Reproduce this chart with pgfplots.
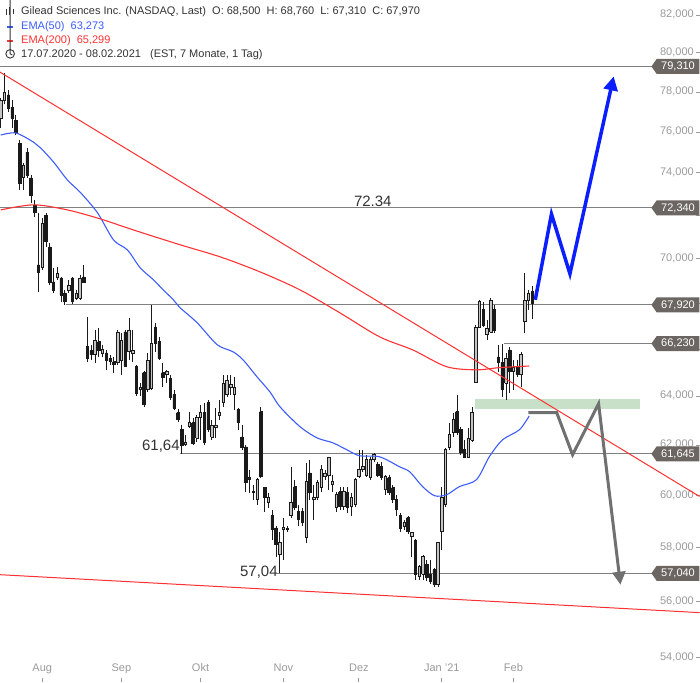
\documentclass[border=0pt]{standalone}
\usepackage{fontspec}
\setmainfont{Liberation Sans}
\usepackage{pgfplots}
\pgfplotsset{compat=1.18}
\usepackage{pgfplotstable}
\usetikzlibrary{arrows.meta,shapes.symbols}

\definecolor{tagc}{HTML}{6B6661}
\definecolor{lvlc}{HTML}{808080}
\definecolor{labc}{HTML}{9A9A9A}
\definecolor{hdrc}{HTML}{333333}
\definecolor{emablue}{HTML}{3D5CFF}
\definecolor{emared}{HTML}{FF3333}
\definecolor{trendc}{HTML}{FF3030}
\definecolor{arrowblue}{HTML}{0A1EFF}
\definecolor{arrowgrey}{HTML}{707070}
\definecolor{boxgreen}{HTML}{C8E0C8}
\definecolor{candlec}{HTML}{1A1A1A}
\definecolor{upfill}{HTML}{C4C4C4}

\pgfplotstableread{
i O H L C
0 76.69 77.69 76.20 77.59
1 77.59 78.97 77.39 78.00
2 77.85 78.10 76.99 77.19
3 77.24 77.59 76.20 76.69
4 76.59 76.84 75.85 76.00
5 75.45 75.60 73.19 73.52
6 73.80 74.48 73.19 74.39
7 75.01 75.21 73.76 73.90
8 73.76 73.90 72.57 72.95
9 72.48 72.71 71.91 72.14
10 69.70 72.10 68.49 69.39
11 69.61 71.86 69.48 71.63
12 72.00 72.10 70.53 70.76
13 70.53 70.71 68.81 68.94
14 68.94 69.57 68.45 68.58
15 69.16 69.61 69.03 69.34
16 69.12 69.16 68.05 68.36
17 68.45 68.58 67.92 68.05
18 68.58 69.03 68.45 68.81
19 69.12 69.16 67.96 68.09
20 68.23 68.58 68.14 68.45
21 68.23 69.25 68.14 69.12
22 69.16 69.70 68.90 68.94
23 66.09 67.39 65.45 65.62
24 65.92 66.18 65.53 65.75
25 65.75 66.82 65.41 66.39
26 66.31 66.91 65.66 65.96
27 65.83 66.18 65.66 66.00
28 65.83 65.96 65.11 65.53
29 65.58 65.75 65.32 65.49
30 65.45 65.66 64.99 65.36
31 65.41 66.82 65.32 66.74
32 65.53 66.69 64.90 66.39
33 66.74 66.82 65.24 65.28
34 65.88 67.35 65.53 66.82
35 65.83 66.82 65.45 65.96
36 65.24 65.32 64.02 64.14
37 64.27 64.56 64.02 64.39
38 64.99 65.07 63.56 63.65
39 64.27 65.83 64.18 65.53
40 64.35 67.92 64.27 66.26
41 66.95 67.13 65.88 66.26
42 66.31 66.52 65.53 65.62
43 64.99 65.41 64.39 64.81
44 64.90 65.11 64.56 65.03
45 64.73 64.90 63.85 63.97
46 64.06 64.27 63.44 63.52
47 63.32 63.48 62.95 63.03
48 62.62 62.82 61.645 62.01
49 62.05 62.42 61.97 62.13
50 62.74 63.36 62.70 62.91
51 62.91 63.11 62.01 62.09
52 62.29 63.23 62.13 63.15
53 63.15 63.65 62.21 63.32
54 63.32 63.73 62.01 62.13
55 63.73 63.85 62.54 62.62
56 62.33 63.03 62.21 62.82
57 62.70 63.52 62.29 62.82
58 63.23 63.85 63.03 63.32
59 63.73 64.90 63.56 64.56
60 64.06 64.90 63.97 64.65
61 64.39 64.90 64.06 64.48
62 64.06 64.81 63.44 64.39
63 63.44 63.52 62.62 62.91
64 62.33 62.82 61.81 61.89
65 61.93 62.01 60.15 60.50
66 60.70 61.01 60.11 60.62
67 60.15 60.42 59.84 60.11
68 59.84 60.70 59.65 60.62
69 63.36 63.56 60.70 60.74
70 60.31 60.35 59.37 59.92
71 59.72 60.11 59.53 59.92
72 59.22 59.45 58.30 58.68
73 58.75 58.83 57.66 58.11
74 57.73 58.60 57.04 58.19
75 58.68 59.14 57.55 58.79
76 58.68 58.83 58.60 58.75
77 59.22 61.13 59.14 59.72
78 60.35 60.62 59.45 59.53
79 59.37 59.65 58.83 59.06
80 59.37 59.53 58.83 58.98
81 58.38 61.29 58.19 60.54
82 60.89 61.41 59.84 60.11
83 59.84 60.42 59.06 59.92
84 59.92 60.62 59.84 60.50
85 60.31 61.21 60.15 61.01
86 60.74 61.01 60.62 60.89
87 60.81 61.53 60.23 61.53
88 60.42 60.81 60.15 60.54
89 59.53 60.15 59.37 60.03
90 60.15 60.35 59.45 59.57
91 59.57 60.35 59.45 60.15
92 60.11 60.35 59.33 59.53
93 59.57 60.11 59.22 59.92
94 59.65 60.70 59.57 60.62
95 60.74 61.81 60.70 61.05
96 61.01 61.81 60.93 61.13
97 60.81 61.61 60.74 61.41
98 60.70 61.53 60.62 61.41
99 61.41 61.70 61.33 61.61
100 61.21 61.33 60.74 60.81
101 61.13 61.33 60.62 60.70
102 60.23 60.81 60.03 60.74
103 60.70 60.81 60.03 60.11
104 60.31 60.42 59.72 59.84
105 59.84 60.03 59.22 59.45
106 59.22 59.33 58.60 58.75
107 58.83 59.06 58.68 58.98
108 59.14 59.22 58.53 58.60
109 58.45 58.60 57.66 58.57
110 58.26 58.34 56.81 57.00
111 56.92 57.36 56.81 57.29
112 57.00 57.73 56.81 57.66
113 57.36 57.55 56.74 56.88
114 57.00 57.55 56.66 56.74
115 57.18 57.25 56.55 56.62
116 56.62 58.22 56.55 58.19
117 58.60 60.35 57.92 59.92
118 59.65 61.89 59.57 61.81
119 61.89 62.91 61.81 62.42
120 62.50 63.32 62.33 63.03
121 63.36 64.06 62.42 62.50
122 62.62 62.74 61.61 61.73
123 61.81 62.21 61.49 61.53
124 61.53 62.70 61.49 62.29
125 62.21 63.56 62.13 63.32
126 64.60 67.04 64.56 66.95
127 66.95 68.14 66.91 68.05
128 67.70 68.05 66.95 67.04
129 66.61 67.26 66.39 66.91
130 66.74 68.23 66.69 68.14
131 67.70 67.92 66.69 66.82
132 65.66 66.18 65.03 65.41
133 65.41 66.23 63.97 64.27
134 64.56 65.83 63.85 65.62
135 65.96 66.09 64.14 65.03
136 65.03 65.53 64.27 65.20
137 65.24 65.53 64.81 64.90
138 64.90 65.88 64.39 65.75
139 67.17 69.34 66.69 68.14
140 68.14 68.58 67.70 68.45
141 68.50 68.76 67.31 67.97
}\candles

\pgfplotstableread{
x v
0 75.85
4.0 75.95
8.7 75.50
10.6 75.21
14.0 74.53
17.7 73.66
21.2 73.05
25.7 72.10
29.9 70.85
33.6 70.39
37.0 69.57
40.5 69.03
43.1 68.58
45.8 68.14
47.6 67.79
52.1 67.13
57.4 66.18
61.6 65.88
64.3 65.53
68.0 64.81
71.4 64.18
74.1 63.56
79.4 62.74
83.9 62.29
88.1 62.09
91.8 61.81
95.2 61.57
100.5 61.53
105.8 61.13
108.5 60.93
111.9 60.35
115.1 59.99
118.3 60.03
121.7 60.35
126.2 60.62
129.6 61.53
133.1 62.21
137.6 62.62
140.2 63.19
}\emafifty

\pgfplotstableread{
x v
0 72.24
8.7 72.48
17.7 72.24
26.5 71.82
35.2 71.31
47.6 70.62
58.2 70.07
68.8 69.39
79.4 68.58
89.9 67.57
100.5 66.52
109.3 65.96
118.3 65.24
126.2 65.11
132.3 65.20
140.2 65.27
}\ematwohundred

\pgfplotstablegetrowsof{\candles}
\pgfmathtruncatemacro{\lastrow}{\pgfplotsretval-1}

\begin{document}
\fontsize{11}{13}\selectfont
\begin{tikzpicture}
\begin{axis}[
  set layers,
  width=700pt, height=682pt, scale only axis,
  xmin=-0.2, xmax=185.4,
  ymode=log, ymin=53.16, ymax=82.80,
  axis line style={draw=none},
  tick align=inside, major tick length=4pt,
  xminorticks=false, yminorticks=false,
  tick style={draw=labc, line width=0.8pt},
  every tick label/.append style={font=\fontsize{11}{13}\selectfont, text=labc},
  xtick={11,32,53,75,95,117,136},
  xticklabels={Aug,Sep,Okt,Nov,Dez,Jan '21,Feb},
  xtick pos=bottom, xticklabel pos=bottom,
  xticklabel style={anchor=south, yshift=2pt},
  typeset ticklabels with strut,
  ytick={54,56,58,60,62,64,66,68,70,72,74,76,78,80,82},
  yticklabels={{54,000},{56,000},{58,000},{60,000},{62,000},{64,000},{},{},{70,000},{},{74,000},{76,000},{78,000},{80,000},{82,000}},
  ytick pos=right, yticklabel pos=right,
  yticklabel style={anchor=east, xshift=-2pt},
  clip=true,
]
% target zone
\addplot[fill=boxgreen, draw=none] coordinates {(125.7,63.48) (169.5,63.48) (169.5,63.89) (125.7,63.89)};
% horizontal levels
\addplot[lvlc, line width=1pt] coordinates {(-0.2,79.31) (172.7,79.31)};
\addplot[lvlc, line width=1pt] coordinates {(-0.2,72.34) (172.7,72.34)};
\addplot[lvlc, line width=1pt] coordinates {(17.2,67.92) (172.7,67.92)};
\addplot[lvlc, line width=1pt] coordinates {(133.6,66.23) (172.7,66.23)};
\addplot[lvlc, line width=1pt] coordinates {(47.5,61.645) (172.7,61.645)};
\addplot[lvlc, line width=1pt] coordinates {(73.3,57.04) (172.7,57.04)};

% candles
\pgfplotsforeachungrouped \rowidx in {0,...,\lastrow}{%
  \pgfplotstablegetelem{\rowidx}{i}\of\candles\let\ci\pgfplotsretval
  \pgfplotstablegetelem{\rowidx}{O}\of\candles\let\co\pgfplotsretval
  \pgfplotstablegetelem{\rowidx}{H}\of\candles\let\ch\pgfplotsretval
  \pgfplotstablegetelem{\rowidx}{L}\of\candles\let\cl\pgfplotsretval
  \pgfplotstablegetelem{\rowidx}{C}\of\candles\let\cc\pgfplotsretval
  \pgfmathsetmacro\xl{\ci-0.33}%
  \pgfmathsetmacro\xr{\ci+0.33}%
  \pgfmathtruncatemacro\up{\cc>\co}%
  \ifnum\up=1 \def\cf{upfill}\else\def\cf{candlec}\fi
  \edef\tmp{%
    \noexpand\addplot[candlec, line width=0.7pt] coordinates {(\ci,\cl) (\ci,\ch)};%
    \noexpand\addplot[draw=candlec, fill=\cf, line width=0.6pt] coordinates {(\xl,\co) (\xr,\co) (\xr,\cc) (\xl,\cc) (\xl,\co)};%
  }\tmp
}

% trend lines
\addplot[trendc, line width=1pt] coordinates {(-0.2,79.02) (185.4,59.96)};
\addplot[trendc, line width=1pt] coordinates {(-0.2,56.99) (185.4,55.60)};
% EMAs
\addplot[emablue, line width=1.1pt, smooth, tension=0.5] table[x=x, y=v] {\emafifty};
\addplot[emared, line width=1.1pt, smooth, tension=0.5] table[x=x, y=v] {\ematwohundred};

% scenario arrows
\addplot[arrowblue, line width=3.5pt, -{Triangle[length=14pt,width=14pt]}] coordinates {(141.8,68.14) (146.1,72.05) (151.0,69.30) (162.6,78.80)};
\addplot[arrowgrey, line width=3pt, -{Triangle[length=13pt,width=13pt]}] coordinates {(140.0,63.32) (147.5,63.32) (151.7,61.61) (158.6,63.69) (164.4,56.62)};

% level annotations
\node[anchor=base, inner sep=0, font=\fontsize{15}{17}\selectfont, text=hdrc, yshift=1pt] at (axis cs:98.7,72.34) {72.34};
\node[anchor=base east, inner sep=0, font=\fontsize{15}{17}\selectfont, text=hdrc, yshift=3pt] at (axis cs:47.5,61.645) {61,64};
\node[anchor=base east, inner sep=0, font=\fontsize{15}{17}\selectfont, text=hdrc, yshift=-3pt] at (axis cs:73.5,57.04) {57,04};

% price tags
\tikzset{tag/.style={signal, signal to=west, signal pointer angle=110, fill=tagc, text=white,
  font=\fontsize{11}{13}\selectfont, inner xsep=3pt, inner ysep=1pt, minimum height=15pt,
  minimum width=48pt, anchor=east}}
\node[tag] at (axis cs:185.4,79.31) {79,310};
\node[tag] at (axis cs:185.4,72.34) {72,340};
\node[tag] at (axis cs:185.4,67.92) {67,920};
\node[tag] at (axis cs:185.4,66.23) {66,230};
\node[tag] at (axis cs:185.4,61.645) {61,645};
\node[tag] at (axis cs:185.4,57.04) {57,040};

% header
\fill[hdrc] (rel axis cs:0.0080,0.9775) rectangle ++(1.2pt,6pt);
\fill[hdrc] (rel axis cs:0.0130,0.9775) rectangle ++(1.2pt,8pt);
\fill[hdrc] (rel axis cs:0.0180,0.9790) rectangle ++(1.2pt,5pt);
\node[anchor=base west, inner sep=0, text=hdrc] at (rel axis cs:0.030,0.978)
  {Gilead Sciences Inc. (NASDAQ, Last)\ \ O: 68,500\ \ H: 68,760\ \ L: 67,310\ \ C: 67,970};
\fill[emablue] (rel axis cs:0.010,0.9590) rectangle ++(6pt,2pt);
\node[anchor=base west, inner sep=0, text=emablue] at (rel axis cs:0.030,0.956) {EMA(50)\ \ 63,273};
\fill[emared] (rel axis cs:0.010,0.9385) rectangle ++(6pt,2pt);
\node[anchor=base west, inner sep=0, text=emared] at (rel axis cs:0.030,0.9355) {EMA(200)\ \ 65,299};
\draw[hdrc, line width=0.9pt] (rel axis cs:0.0145,0.9210) circle[radius=4.3pt];
\draw[hdrc, line width=0.9pt] (rel axis cs:0.0145,0.9210) -- ++(0,3pt) (rel axis cs:0.0145,0.9210) -- ++(2.2pt,-1.2pt);
\node[anchor=base west, inner sep=0, text=hdrc] at (rel axis cs:0.030,0.915)
  {17.07.2020 - 08.02.2021\ \ \ (EST, 7 Monate, 1 Tag)};
\end{axis}
\end{tikzpicture}
\end{document}
